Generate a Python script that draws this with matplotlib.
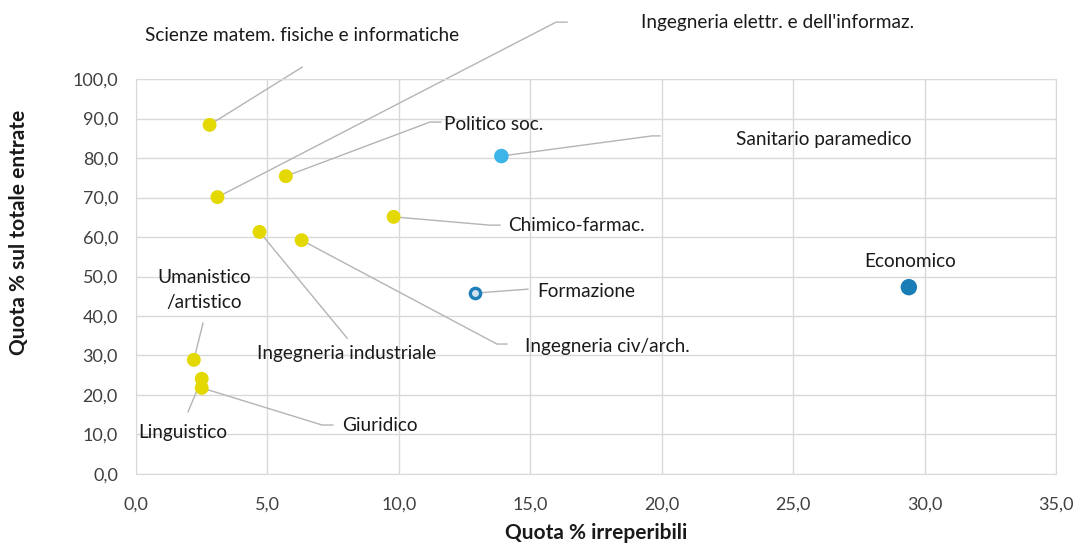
import matplotlib.pyplot as plt

plt.rcParams['font.family'] = ['Lato', 'DejaVu Sans']

# dati: quota % irreperibili (x) e quota % sul totale entrate (y)
names = ['Scienze matem. fisiche e informatiche', "Ingegneria elettr. e dell'informaz.",
         'Politico soc.', 'Sanitario paramedico', 'Chimico-farmac.', 'Economico',
         'Formazione', 'Ingegneria civ/arch.', 'Ingegneria industriale',
         'Umanistico\n/artistico', 'Linguistico', 'Giuridico']
x_irrep = [2.8, 3.1, 5.7, 13.9, 9.8, 29.4, 12.9, 6.3, 4.7, 2.2, 2.5, 2.5]
y_entrate = [88.4, 70.1, 75.4, 80.5, 65.1, 47.3, 45.8, 59.2, 61.3, 28.9, 24.1, 21.8]
group = ['y', 'y', 'y', 'sanit', 'y', 'econ', 'form', 'y', 'y', 'y', 'y', 'y']

# posizione etichette e linee guida (coordinate dati)
label_xy = [(6.32, 110.9), (24.39, 114.4), (13.62, 88.6), (26.17, 84.8), (16.74, 63.0),
            (29.44, 53.9), (17.12, 46.3), (17.92, 32.4), (8.03, 30.6), (2.59, 46.6),
            (1.79, 10.6), (9.28, 12.4)]
leader = [[(6.32, 103.0)], [(15.98, 114.4), (16.40, 114.4)], [(11.18, 89.1), (11.60, 89.1)],
          [(19.63, 85.6), (19.93, 85.6)], [(13.47, 63.0), (13.85, 63.0)], [],
          [(14.91, 46.8)], [(13.73, 32.9), (14.11, 32.9)], [(8.03, 34.4)],
          [(2.55, 38.2)], [(1.98, 15.7)], [(7.08, 12.4), (7.49, 12.4)]]

style = {'y': dict(s=100, c='#e3d800', edgecolors='none'),
         'sanit': dict(s=110, c='#3db4e8', edgecolors='none'),
         'econ': dict(s=140, c='#1b7db6', edgecolors='none'),
         'form': dict(s=55, c='#cfe2ee', edgecolors='#1d7fba', linewidths=2.4)}

fig = plt.figure(figsize=(10.81, 5.45), dpi=100)
ax = fig.add_axes([0.1258, 0.1303, 0.8511, 0.7247])

for i in range(len(names)):
    ax.scatter(x_irrep[i], y_entrate[i], zorder=3, **style[group[i]])
    if leader[i]:
        pts = [(x_irrep[i], y_entrate[i])] + leader[i]
        ax.plot([p[0] for p in pts], [p[1] for p in pts], color='#b4b4b4',
                lw=1, zorder=2, clip_on=False)
    ax.text(label_xy[i][0], label_xy[i][1], names[i], ha='center', va='center',
            fontsize=13.7, color='#1a1a1a', clip_on=False, linespacing=1.55)

ax.set_xlim(0, 35)
ax.set_ylim(0, 100)
ax.set_xticks(range(0, 36, 5))
ax.set_yticks(range(0, 101, 10))
ax.set_xticklabels(['{:.1f}'.format(v).replace('.', ',') for v in range(0, 36, 5)])
ax.set_yticklabels(['{:.1f}'.format(v).replace('.', ',') for v in range(0, 101, 10)])
ax.tick_params(length=0, labelsize=13, labelcolor='#404040')
ax.tick_params(axis='x', pad=16)
ax.tick_params(axis='y', pad=13)
ax.grid(color='#d9d9d9', lw=1)
ax.set_axisbelow(True)
for s in ax.spines.values():
    s.set_color('#d9d9d9')

ax.set_xlabel('Quota % irreperibili', fontsize=15, fontweight='bold', color='#1a1a1a')
ax.set_ylabel('Quota % sul totale entrate', fontsize=15, fontweight='bold', color='#1a1a1a')
ax.xaxis.set_label_coords(0.5, -0.149)
ax.yaxis.set_label_coords(-0.127, 0.613)
ax.xaxis.label.set_va('center')
ax.yaxis.label.set_va('center')

fig.savefig('out.png', dpi=100)
